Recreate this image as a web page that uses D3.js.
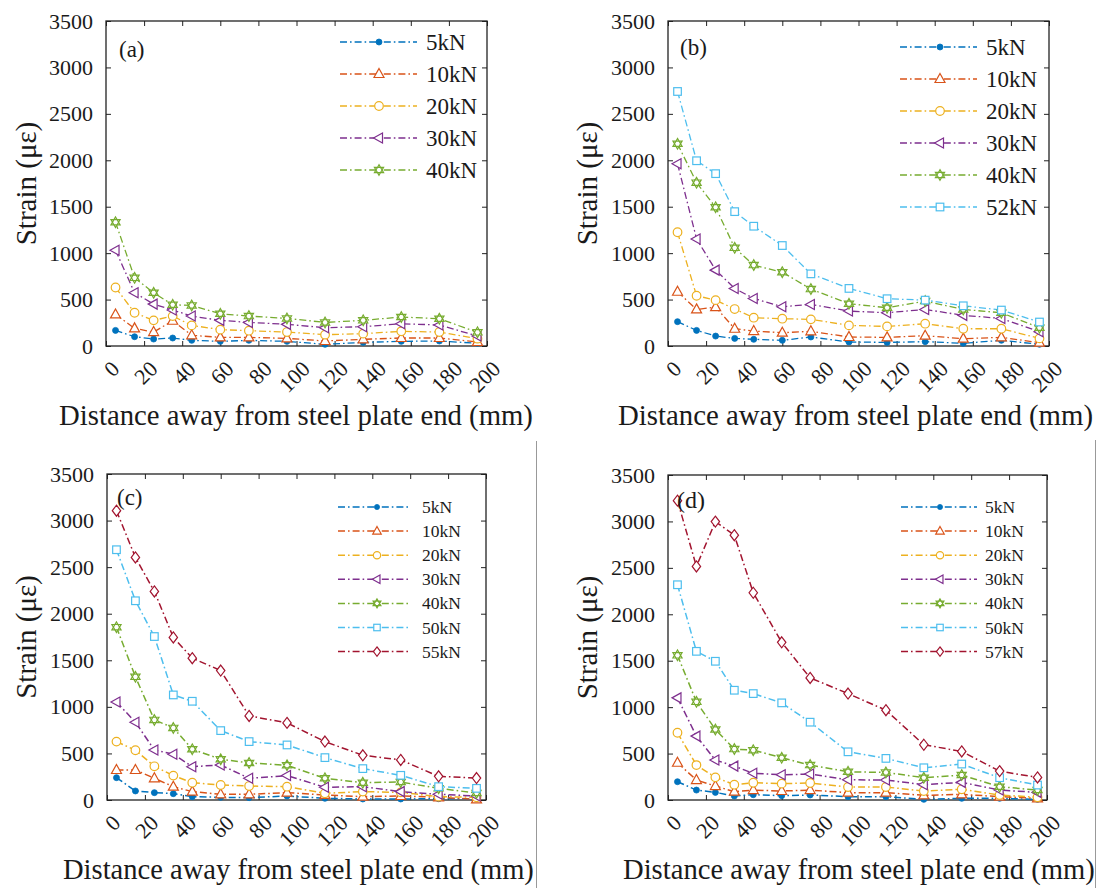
<!DOCTYPE html>
<html>
<head>
<meta charset="utf-8">
<script src="https://cdn.jsdelivr.net/npm/d3@7"></script>
<style>
  html, body { margin: 0; padding: 0; background: #fff; }
</style>
</head>
<body>
<svg id="fig" width="1097" height="888" font-family="'Liberation Serif', 'DejaVu Serif', serif"></svg>
<script>
// Measurement positions along the specimen (mm from the steel plate end)
const distance = [5, 15, 25, 35, 45, 60, 75, 95, 115, 135, 155, 175, 195];
const xTicks = [0, 20, 40, 60, 80, 100, 120, 140, 160, 180, 200];
const yTicks = [0, 500, 1000, 1500, 2000, 2500, 3000, 3500];

// (a)
const a5  = [168, 100, 75, 86, 61, 50, 61, 50, 18, 39, 50, 54, 29];
const a10 = [340, 190, 150, 272, 115, 93, 93, 82, 54, 72, 86, 86, 43];
const a20 = [630, 358, 276, 322, 222, 176, 165, 150, 122, 133, 158, 150, 79];
const a30 = [1032, 573, 451, 387, 322, 276, 254, 233, 197, 208, 240, 226, 107];
const a40 = [1333, 734, 573, 444, 437, 347, 322, 297, 254, 276, 312, 294, 147];

// (b)
const b5  = [262, 168, 107, 82, 72, 61, 97, 43, 39, 47, 29, 61, 18];
const b10 = [584, 394, 419, 186, 161, 143, 158, 97, 93, 111, 79, 93, 36];
const b20 = [1225, 541, 494, 398, 305, 294, 287, 222, 211, 240, 186, 186, 82];
const b30 = [1963, 1153, 817, 620, 512, 423, 448, 376, 358, 394, 330, 297, 154];
const b40 = [2178, 1759, 1494, 1057, 871, 795, 613, 455, 412, 484, 394, 358, 197];
const b52 = [2741, 1995, 1856, 1447, 1290, 1082, 777, 620, 509, 494, 433, 387, 258];

// (c)
const c5  = [240, 97, 79, 68, 36, 29, 25, 43, 18, 11, 11, 14, 11];
const c10 = [322, 322, 233, 143, 90, 61, 61, 79, 54, 36, 43, 29, 7];
const c20 = [627, 534, 362, 262, 186, 161, 150, 143, 72, 90, 82, 36, 29];
const c30 = [1053, 835, 537, 491, 358, 376, 233, 262, 136, 143, 90, 61, 43];
const c40 = [1856, 1322, 860, 774, 545, 437, 398, 373, 233, 186, 193, 125, 75];
const c50 = [2687, 2139, 1755, 1128, 1060, 745, 627, 591, 455, 337, 265, 143, 125];
const c55 = [3106, 2604, 2239, 1745, 1523, 1390, 903, 828, 627, 480, 430, 254, 236];

// (d)
const d5  = [197, 107, 82, 43, 57, 47, 54, 36, 36, 7, 18, 18, 7];
const d10 = [401, 215, 150, 90, 107, 97, 107, 79, 79, 50, 61, 36, 18];
const d20 = [724, 376, 244, 165, 186, 176, 183, 140, 140, 97, 115, 54, 29];
const d30 = [1100, 688, 430, 365, 287, 272, 279, 218, 215, 165, 190, 107, 82];
const d40 = [1558, 1057, 759, 548, 537, 455, 376, 304, 297, 240, 269, 143, 107];
const d50 = [2318, 1601, 1494, 1182, 1146, 1046, 838, 519, 448, 347, 387, 240, 161];
const d57 = [3224, 2515, 2998, 2852, 2232, 1698, 1315, 1146, 967, 595, 523, 311, 243];

const loadsA = ["5kN", "10kN", "20kN", "30kN", "40kN"];
const loadsB = ["5kN", "10kN", "20kN", "30kN", "40kN", "52kN"];
const loadsC = ["5kN", "10kN", "20kN", "30kN", "40kN", "50kN", "55kN"];
const loadsD = ["5kN", "10kN", "20kN", "30kN", "40kN", "50kN", "57kN"];

const xTitle = "Distance away from steel plate end (mm)";
const yTitle = "Strain (\u03BC\u03B5)";

// line colours and marker shapes, by position in the load sequence
const colors = ["#0072BD", "#D95319", "#EDB120", "#7E2F8E", "#77AC30", "#4DBEEE", "#A2142F"];
const shapes = ["dot", "triangle", "circle", "left", "hexagram", "square", "diamond"];

const FONT = "'Liberation Serif', 'DejaVu Serif', serif";
const INK = "#1a1a1a";

const panels = [
  { tag: "(a)", series: [a5, a10, a20, a30, a40], loads: loadsA,
    box: { l: 106, r: 487, t: 21, b: 346 }, lw: 1.3,
    tagPos: [119, 57], tagSize: 23,
    legend: { x1: 340, x2: 417, mx: 379, tx: 426, y0: 42, dy: 32, size: 23 },
    yTitleX: 26, xTitle: { x0: 59, x1: 533, y: 425 } },
  { tag: "(b)", series: [b5, b10, b20, b30, b40, b52], loads: loadsB,
    box: { l: 668, r: 1049, t: 21, b: 346 }, lw: 1.3,
    tagPos: [680, 55], tagSize: 23,
    legend: { x1: 900, x2: 977, mx: 940, tx: 986, y0: 47, dy: 32, size: 23 },
    yTitleX: 587, xTitle: { x0: 618, x1: 1093, y: 425 } },
  { tag: "(c)", series: [c5, c10, c20, c30, c40, c50, c55], loads: loadsC,
    box: { l: 107, r: 486, t: 474, b: 800 }, lw: 1.5,
    tagPos: [117, 505], tagSize: 23,
    legend: { x1: 338, x2: 410, mx: 377, tx: 422, y0: 507, dy: 24.1, size: 17.5 },
    yTitleX: 26, xTitle: { x0: 63, x1: 534, y: 879 } },
  { tag: "(d)", series: [d5, d10, d20, d30, d40, d50, d57], loads: loadsD,
    box: { l: 668, r: 1047, t: 475, b: 800 }, lw: 1.5,
    tagPos: [677, 508], tagSize: 24,
    legend: { x1: 901, x2: 977, mx: 940, tx: 985, y0: 507, dy: 24.1, size: 17.5 },
    yTitleX: 587, xTitle: { x0: 623, x1: 1095, y: 879 } }
];

const svg = d3.select("#fig");

function hexagramPath(r) {
  const parts = [];
  for (let k = 0; k < 2; k++) {
    const tri = [];
    for (let i = 0; i < 3; i++) {
      const a = (Math.PI / 2) + k * Math.PI + i * 2 * Math.PI / 3;
      tri.push([r * Math.cos(a), -r * Math.sin(a)]);
    }
    parts.push("M" + tri.map(p => p[0].toFixed(2) + "," + p[1].toFixed(2)).join("L") + "Z");
  }
  return parts.join("");
}

function drawMarker(g, shape, color, x, y, s) {
  const common = sel => sel.attr("transform", `translate(${x},${y})`)
    .attr("stroke", color).attr("stroke-width", 1.2).attr("fill", "#fff");
  switch (shape) {
    case "dot":
      g.append("circle").attr("cx", x).attr("cy", y).attr("r", 3 * s)
        .attr("fill", color).attr("stroke", color).attr("stroke-width", 0.8);
      break;
    case "triangle":
      common(g.append("path").attr("d", `M0,${-5.5 * s}L${5 * s},${3.5 * s}L${-5 * s},${3.5 * s}Z`));
      break;
    case "circle":
      common(g.append("circle").attr("r", 4.3 * s));
      break;
    case "left":
      common(g.append("path").attr("d", `M${-5.5 * s},0L${3.5 * s},${-5 * s}L${3.5 * s},${5 * s}Z`));
      break;
    case "hexagram":
      common(g.append("path").attr("d", hexagramPath(5.3 * s)));
      break;
    case "square":
      common(g.append("rect").attr("x", -3.8 * s).attr("y", -3.8 * s).attr("width", 7.6 * s).attr("height", 7.6 * s));
      break;
    case "diamond":
      common(g.append("path").attr("d", `M0,${-5.5 * s}L${4.2 * s},0L0,${5.5 * s}L${-4.2 * s},0Z`));
      break;
  }
}

function fitText(sel, width, startSize) {
  sel.style("font-size", startSize + "px");
  const w = sel.node().getComputedTextLength();
  sel.style("font-size", (startSize * width / w).toFixed(2) + "px");
}

function styleText(sel, size) {
  return sel.style("font-family", FONT).style("font-size", size + "px").attr("fill", INK);
}

panels.forEach(p => {
  const g = svg.append("g");
  const x = d3.scaleLinear().domain([0, 200]).range([p.box.l, p.box.r]);
  const y = d3.scaleLinear().domain([0, 3500]).range([p.box.b, p.box.t]);

  // frame with inward ticks on all four sides
  const tick = 5;
  const axB = d3.axisBottom(x).tickValues(xTicks).tickSizeInner(-tick).tickSizeOuter(0).tickFormat("");
  const axT = d3.axisTop(x).tickValues(xTicks).tickSizeInner(-tick).tickSizeOuter(0).tickFormat("");
  const axL = d3.axisLeft(y).tickValues(yTicks).tickSizeInner(-tick).tickSizeOuter(0)
    .tickPadding(13).tickFormat(d3.format("d"));
  const axR = d3.axisRight(y).tickValues(yTicks).tickSizeInner(-tick).tickSizeOuter(0).tickFormat("");

  const gB = g.append("g").attr("transform", `translate(0,${p.box.b})`).call(axB);
  g.append("g").attr("transform", `translate(0,${p.box.t})`).call(axT);
  const gL = g.append("g").attr("transform", `translate(${p.box.l},0)`).call(axL);
  g.append("g").attr("transform", `translate(${p.box.r},0)`).call(axR);
  g.selectAll(".domain").remove();
  g.selectAll(".tick line").attr("stroke", "#222").attr("stroke-width", 1);

  styleText(gL.selectAll(".tick text"), 22);

  // rotated distance labels
  styleText(gB.selectAll(".tick").append("text")
    .attr("transform", "translate(9,19) rotate(-45)")
    .attr("text-anchor", "end")
    .attr("dominant-baseline", "central"), 22)
    .text(d => d);

  g.append("rect")
    .attr("x", p.box.l).attr("y", p.box.t)
    .attr("width", p.box.r - p.box.l).attr("height", p.box.b - p.box.t)
    .attr("fill", "none").attr("stroke", "#222").attr("stroke-width", 1.3);

  // series lines then markers
  const line = d3.line().x((d, i) => x(distance[i])).y(d => y(d));
  p.series.forEach((vals, si) => {
    g.append("path").datum(vals).attr("d", line)
      .attr("fill", "none").attr("stroke", colors[si]).attr("stroke-width", p.lw)
      .attr("stroke-dasharray", "7,3,1.6,3");
  });
  p.series.forEach((vals, si) => {
    const mg = g.append("g");
    vals.forEach((v, i) => drawMarker(mg, shapes[si], colors[si], x(distance[i]), y(v), 1));
  });

  // legend
  const L = p.legend;
  p.loads.forEach((name, i) => {
    const ly = L.y0 + i * L.dy;
    g.append("line").attr("x1", L.x1).attr("x2", L.x2).attr("y1", ly).attr("y2", ly)
      .attr("stroke", colors[i]).attr("stroke-width", p.lw).attr("stroke-dasharray", "7,3,1.6,3");
    drawMarker(g, shapes[i], colors[i], L.mx, ly, L.size > 20 ? 1 : 0.85);
    styleText(g.append("text").attr("x", L.tx).attr("y", ly).attr("dominant-baseline", "central"), L.size)
      .text(name);
  });

  // panel tag
  styleText(g.append("text").attr("x", p.tagPos[0]).attr("y", p.tagPos[1]), p.tagSize).text(p.tag);

  // axis titles
  const xt = styleText(g.append("text").attr("x", p.xTitle.x0).attr("y", p.xTitle.y), 25).text(xTitle);
  fitText(xt, p.xTitle.x1 - p.xTitle.x0, 25);
  const cy = (p.box.t + p.box.b) / 2;
  styleText(g.append("text")
    .attr("transform", `translate(${p.yTitleX},${cy}) rotate(-90)`)
    .attr("text-anchor", "middle").attr("dominant-baseline", "central"), 29)
    .text(yTitle);
});

// thin separators beside the lower panels
svg.append("line").attr("x1", 536.5).attr("x2", 536.5).attr("y1", 441).attr("y2", 888)
  .attr("stroke", "#999").attr("stroke-width", 1);
svg.append("line").attr("x1", 1095.5).attr("x2", 1095.5).attr("y1", 440).attr("y2", 888)
  .attr("stroke", "#999").attr("stroke-width", 1);
</script>
</body>
</html>
